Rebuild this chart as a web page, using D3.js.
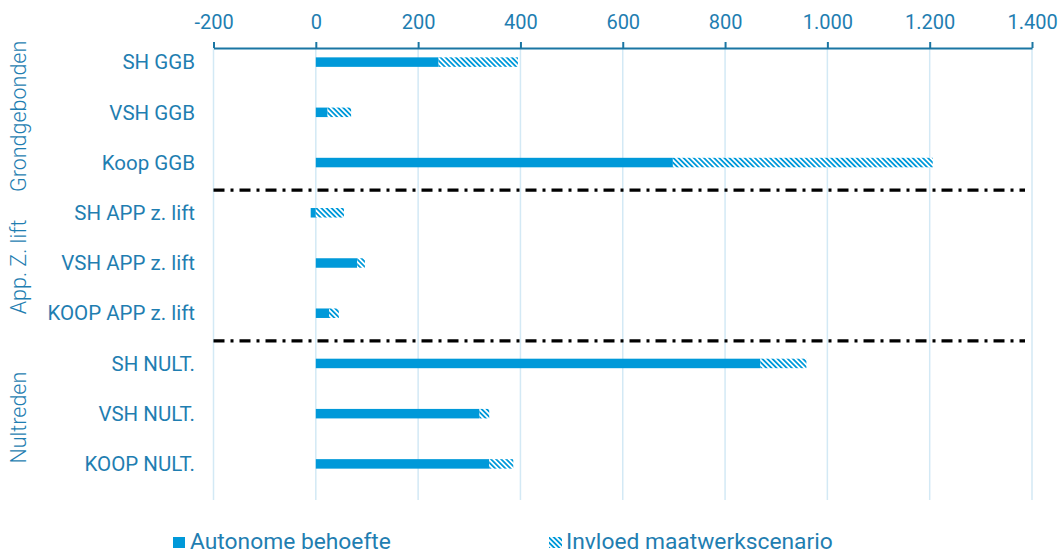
<!DOCTYPE html>
<html>
<head>
<meta charset="utf-8">
<script src="https://cdn.jsdelivr.net/npm/d3@7"></script>
<style>
  body { margin: 0; background: #fff; }
  text { font-family: Roboto, sans-serif; fill: #1f7eb1; }
</style>
</head>
<body>
<div class="chart"></div>
<script>
const chart = d3.select('.chart');

const width = 1061;
const height = 555;

// data
const categories = ['SH GGB', 'VSH GGB', 'Koop GGB',
  'SH APP z. lift', 'VSH APP z. lift', 'KOOP APP z. lift',
  'SH NULT.', 'VSH NULT.', 'KOOP NULT.'];
const autonome = [240, 23, 698, -10, 81, 26, 869, 320, 339];
const invloed = [155, 46, 508, 55, 15, 19, 90, 19, 47];
const groups = ['Grondgebonden', 'App. Z. lift', 'Nultreden'];
const groupSize = 3;
const tickValues = [-200, 0, 200, 400, 600, 800, 1000, 1200, 1400];
const seriesNames = ['Autonome behoefte', 'Invloed maatwerkscenario'];

const blue = '#0099d9';
const axisTop = 48;
const gridBottom = 500;
const barH = 9.5;

const nl = d3.formatLocale({decimal: ',', thousands: '.', grouping: [3], currency: ['€', ''], minus: '-'});
const fmt = nl.format(',.0f');

const svg = chart.append('svg')
  .attr('width', width)
  .attr('height', height);

const defs = svg.append('defs');
const pat = defs.append('pattern')
  .attr('id', 'hatch')
  .attr('patternUnits', 'userSpaceOnUse')
  .attr('width', 3.6)
  .attr('height', 3.6)
  .attr('patternTransform', 'rotate(-45)');
pat.append('rect').attr('width', 3.6).attr('height', 3.6).attr('fill', '#fff');
pat.append('rect').attr('width', 1.8).attr('height', 3.6).attr('fill', blue);

const x = d3.scaleLinear().domain([-200, 1400]).range([213.5, 1032]);
const y = d3.scalePoint().domain(categories).range([37, 489]).padding(0.5);

// gridlines
svg.selectAll('line.grid')
  .data(tickValues)
  .enter().append('line')
  .attr('class', 'grid')
  .attr('x1', d => x(d))
  .attr('x2', d => x(d))
  .attr('y1', axisTop)
  .attr('y2', gridBottom)
  .style('stroke', '#d3e9f5')
  .style('stroke-width', 1.5);

// axis on top
const ax = svg.append('g')
  .attr('transform', `translate(0,${axisTop})`)
  .call(d3.axisTop(x).tickValues(tickValues).tickFormat(fmt).tickSize(6).tickPadding(13).tickSizeOuter(0));
ax.select('.domain').attr('stroke', '#1a76a3').attr('stroke-width', 2);
ax.selectAll('.tick line').attr('stroke', '#1a76a3').attr('stroke-width', 2);
ax.selectAll('.tick text').style('font-size', '20px').style('fill', '#1f7eb1');

// bars: autonome
svg.selectAll('rect.auto')
  .data(categories)
  .enter().append('rect')
  .attr('class', 'auto')
  .attr('x', (d, i) => x(Math.min(0, autonome[i])))
  .attr('width', (d, i) => Math.abs(x(autonome[i]) - x(0)))
  .attr('y', d => y(d) - barH / 2)
  .attr('height', barH)
  .attr('fill', blue);

// bars: invloed (stacked on positive side)
svg.selectAll('rect.inv')
  .data(categories)
  .enter().append('rect')
  .attr('class', 'inv')
  .attr('x', (d, i) => x(Math.max(0, autonome[i])))
  .attr('width', (d, i) => x(Math.max(0, autonome[i]) + invloed[i]) - x(Math.max(0, autonome[i])))
  .attr('y', d => y(d) - barH / 2)
  .attr('height', barH)
  .attr('fill', 'url(#hatch)');

// category labels
svg.selectAll('text.cat')
  .data(categories)
  .enter().append('text')
  .attr('class', 'cat')
  .attr('x', 195)
  .attr('y', d => y(d))
  .attr('dy', '0.35em')
  .attr('text-anchor', 'end')
  .style('font-size', '20.5px')
  .text(d => d);

// group separators (dash-dot)
const seps = d3.range(1, groups.length).map(g =>
  (y(categories[g * groupSize - 1]) + y(categories[g * groupSize])) / 2 + 2.5);
svg.selectAll('line.sep')
  .data(seps)
  .enter().append('line')
  .attr('class', 'sep')
  .attr('x1', x(-200))
  .attr('x2', 1025)
  .attr('y1', d => d)
  .attr('y2', d => d)
  .style('stroke', '#000')
  .style('stroke-width', 3.2)
  .style('stroke-dasharray', '11,6,3,6');

// group labels (rotated)
svg.selectAll('text.grp')
  .data(groups)
  .enter().append('text')
  .attr('class', 'grp')
  .attr('transform', (d, i) => `translate(26,${y(categories[i * groupSize + 1]) + 4}) rotate(-90)`)
  .attr('text-anchor', 'middle')
  .style('font-size', '21.5px')
  .style('font-weight', 300)
  .text(d => d);

// legend
const leg = svg.append('g');
leg.append('rect').attr('x', 173).attr('y', 537).attr('width', 12).attr('height', 11).attr('fill', blue);
leg.append('text').attr('x', 190).attr('y', 549).style('font-size', '22.8px').text(seriesNames[0]);
leg.append('rect').attr('x', 549).attr('y', 537).attr('width', 13).attr('height', 11).attr('fill', 'url(#hatch)');
leg.append('text').attr('x', 566).attr('y', 549).style('font-size', '22.8px').text(seriesNames[1]);
</script>
</body>
</html>
